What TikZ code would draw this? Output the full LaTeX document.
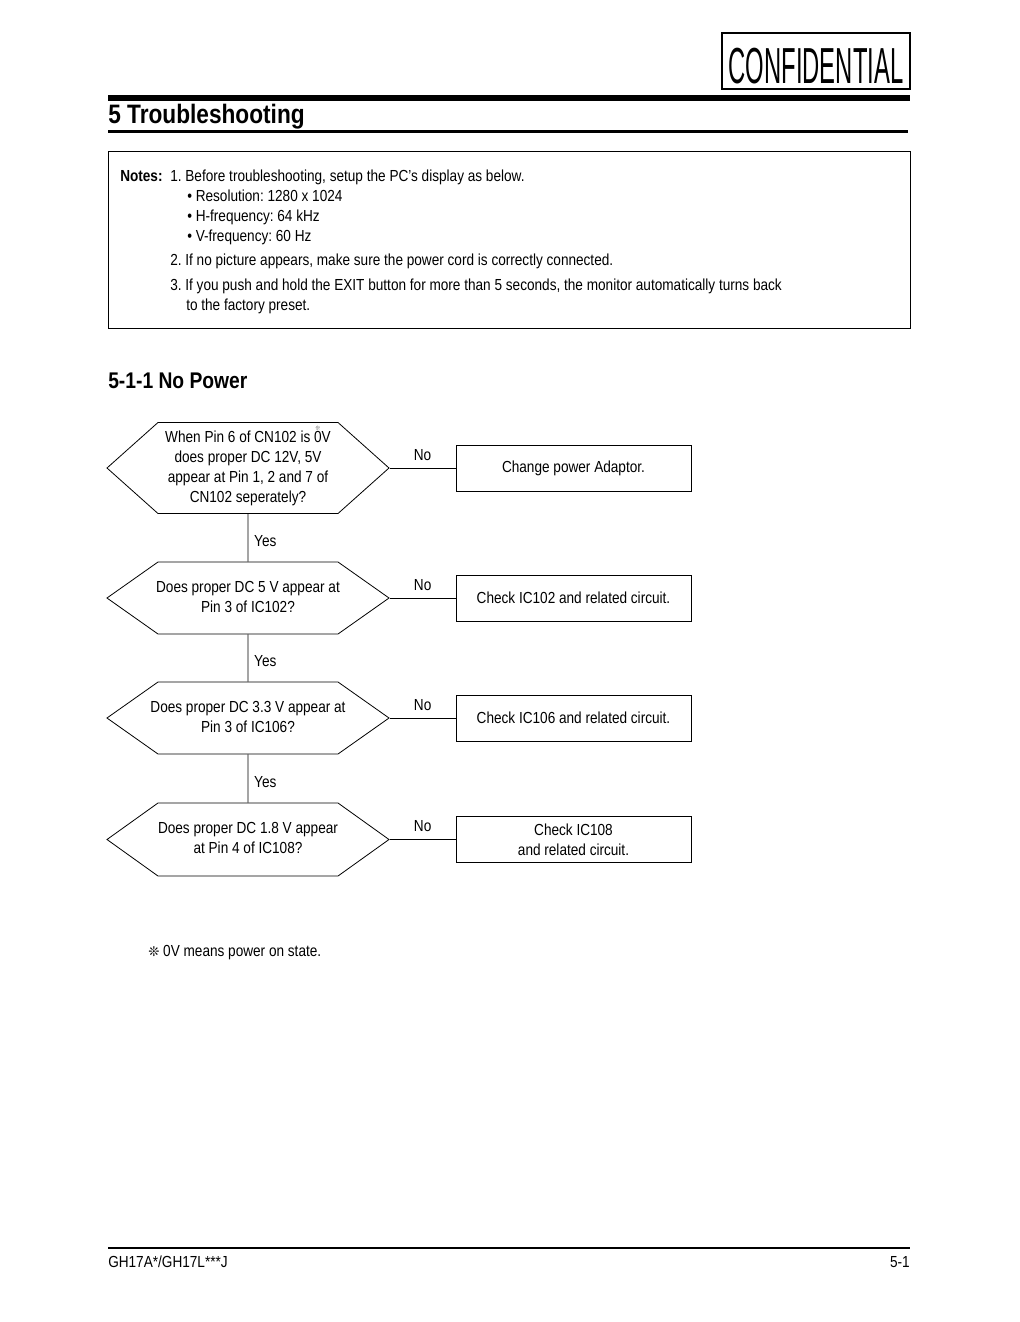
\documentclass[tikz,border=0pt]{standalone}
\usepackage{fontspec}
\setmainfont{Liberation Sans}[FakeStretch=0.85]
\newfontfamily\stampfont{Liberation Sans}[FakeStretch=0.47]
\newfontfamily\symfont{DejaVu Sans}
\usetikzlibrary{shapes.symbols}
\frenchspacing
\newcommand\refmark[1]{\ooalign{#1\cr\hidewidth\raisebox{9pt}{\color{black!55}\symfont\fontsize{4.5}{5}\selectfont ❊}\hidewidth\cr}}
\newcommand\asktext[1]{\makebox[135pt]{\begin{tabular}{@{}c@{}}#1\end{tabular}}}

\begin{document}
\begin{tikzpicture}[x=0.75pt,y=-0.75pt,font=\fontsize{12}{15}\selectfont,
  ask/.style={draw,line width=0.6pt,signal,signal to=west and east,minimum width=211.5pt,inner sep=0pt,yshift=0pt},
  fix/.style={draw,line width=0.6pt,minimum width=176.25pt,minimum height=34.5pt,align=center,inner sep=0pt},
  txt/.style={anchor=base west,inner sep=0pt},
  yes/.style={right=1pt,yshift=-2.5pt}]
\useasboundingbox (0,0) rectangle (1020,1322);
% page header
\node[draw,line width=1pt,minimum width=141pt,minimum height=42pt,inner sep=0pt,text height=34pt,text depth=0pt,font=\stampfont\fontsize{38}{38}\selectfont] (stamp) at (816,61){CONFIDENTIAL};
\draw[line width=4.5pt] (108,97.5) -- (910,97.5);
\node[txt,font=\fontsize{20}{24}\selectfont\bfseries] (title) at (108,123){5 Troubleshooting};
\draw[line width=2.25pt] (108,131.5) -- (908,131.5);
% notes
\draw[line width=0.6pt] (108,151) rectangle (910,328);
\node[txt,font=\fontsize{12}{15}\selectfont\bfseries] (notes) at (120,181){Notes:};
\node[txt] (note1) at (170,181){1. Before troubleshooting, setup the PC’s display as below.};
\node[txt] (note1a) at (187,201){• Resolution: 1280 x 1024};
\node[txt] (note1b) at (187,221){• H-frequency: 64 kHz};
\node[txt] (note1c) at (187,241){• V-frequency: 60 Hz};
\node[txt] (note2) at (170,265){2. If no picture appears, make sure the power cord is correctly connected.};
\node[txt] (note3) at (170,290){3. If you push and hold the EXIT button for more than 5 seconds, the monitor automatically turns back};
\node[txt] (note3a) at (186,310){to the factory preset.};
\node[txt,font=\fontsize{17}{20}\selectfont\bfseries] (section) at (108,388){5-1-1 No Power};
% flow chart
\node[ask,minimum height=68.25pt,signal pointer angle=83.5] (q1) at (248,468){\asktext{When Pin 6 of CN102 is \refmark{0}V\\does proper DC 12V, 5V\\appear at Pin 1, 2 and 7 of\\CN102 seperately?}};
\node[ask,minimum height=54pt,signal pointer angle=70.4] (q2) at (248,598){\asktext{Does proper DC 5 V appear at\\Pin 3 of IC102?}};
\node[ask,minimum height=54pt,signal pointer angle=70.4] (q3) at (248,718){\asktext{Does proper DC 3.3 V appear at\\Pin 3 of IC106?}};
\node[ask,minimum height=54.75pt,signal pointer angle=71.2] (q4) at (248,839.5){\asktext{Does proper DC 1.8 V appear\\at Pin 4 of IC108?}};
\node[fix] (fix1) at (573.5,468){\raisebox{-1.5pt}{Change power Adaptor.}};
\node[fix] (fix2) at (573.5,598){\raisebox{-1.5pt}{Check IC102 and related circuit.}};
\node[fix] (fix3) at (573.5,718){\raisebox{-1.5pt}{Check IC106 and related circuit.}};
\node[fix] (fix4) at (573.5,839.5){Check IC108\\and related circuit.};
\draw[line width=0.6pt] (q1) -- node[yes]{Yes} (q2);
\draw[line width=0.6pt] (q2) -- node[yes]{Yes} (q3);
\draw[line width=0.6pt] (q3) -- node[yes]{Yes} (q4);
\draw[line width=0.6pt] (q1.east) -- node[above=2pt]{No} (fix1.west);
\draw[line width=0.6pt] (q2.east) -- node[above=2pt]{No} (fix2.west);
\draw[line width=0.6pt] (q3.east) -- node[above=2pt]{No} (fix3.west);
\draw[line width=0.6pt] (q4.east) -- node[above=2pt]{No} (fix4.west);
\node[txt] (footnote) at (148,956){{\symfont\fontsize{10}{10}\selectfont ❊} 0V means power on state.};
% page footer
\draw[line width=1.5pt] (108,1248) -- (910,1248);
\node[txt] (model) at (108,1267){GH17A*/GH17L***J};
\node[anchor=base east,inner sep=0pt] (page) at (910,1267){5-1};
\end{tikzpicture}
\end{document}
